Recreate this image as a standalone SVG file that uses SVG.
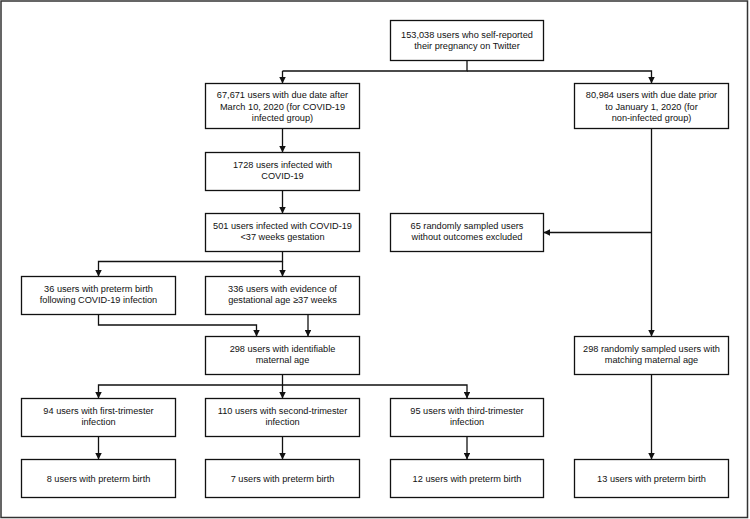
<svg xmlns="http://www.w3.org/2000/svg" width="750" height="519" viewBox="0 0 750 519">
<style>
.box{fill:#fff;stroke:#111;stroke-width:1.3}
.t{font-family:"Liberation Sans",Arial,sans-serif;font-size:9.2px;fill:#111;text-anchor:middle}
.c{fill:none;stroke:#111;stroke-width:1.3}
.a{marker-end:url(#arr)}
</style>
<defs>
<marker id="arr" viewBox="0 0 10 10" refX="10" refY="5" markerWidth="9" markerHeight="6.5" markerUnits="userSpaceOnUse" orient="auto">
<path d="M0,0 L10,5 L0,10 Z" fill="#111"/>
</marker>
</defs>
<rect x="1" y="1" width="746.5" height="516.5" fill="#fff" stroke="#333" stroke-width="1.5"/>
<g id="connectors">
<path class="c" d="M467,60.5 V71 H282.5"/>
<path class="c a" d="M282.5,71 V83.5"/>
<path class="c a" d="M467,71 H651.5 V83.5"/>
<path class="c a" d="M282.5,128.5 V152.5"/>
<path class="c a" d="M282.5,190.5 V213.5"/>
<path class="c a" d="M651.5,128.5 V336.5"/>
<path class="c a" d="M651.5,232.5 H543.5"/>
<path class="c a" d="M282.5,251.5 V261.5 H98.5 V276.5"/>
<path class="c a" d="M282.5,261.5 V276.5"/>
<path class="c a" d="M98.5,314.5 V325 H256.5 V336.5"/>
<path class="c a" d="M308,314.5 V336.5"/>
<path class="c a" d="M282.5,374.5 V385 H98.5 V398.5"/>
<path class="c a" d="M282.5,385 V398.5"/>
<path class="c a" d="M282.5,385 H467 V398.5"/>
<path class="c a" d="M98.5,436.5 V459.5"/>
<path class="c a" d="M282.5,436.5 V459.5"/>
<path class="c a" d="M467,436.5 V459.5"/>
<path class="c a" d="M651.5,374.5 V459.5"/>
</g>
<g id="n-top"><rect class="box" x="390.5" y="20.5" width="153" height="40"/>
<text class="t" x="467" y="38">153,038 users who self-reported</text>
<text class="t" x="467" y="48.6">their pregnancy on Twitter</text></g>
<g id="n-after"><rect class="box" x="205.5" y="83.5" width="154" height="45"/>
<text class="t" x="282.5" y="98.3">67,671 users with due date after</text>
<text class="t" x="282.5" y="109.5">March 10, 2020 (for COVID-19</text>
<text class="t" x="282.5" y="120.7">infected group)</text></g>
<g id="n-prior"><rect class="box" x="574.5" y="83.5" width="154" height="45"/>
<text class="t" x="651.5" y="98.3">80,984 users with due date prior</text>
<text class="t" x="651.5" y="109.5">to January 1, 2020 (for</text>
<text class="t" x="651.5" y="120.7">non-infected group)</text></g>
<g id="n-1728"><rect class="box" x="205.5" y="152.5" width="154" height="38"/>
<text class="t" x="282.5" y="168">1728 users infected with</text>
<text class="t" x="282.5" y="178.6">COVID-19</text></g>
<g id="n-501"><rect class="box" x="205.5" y="213.5" width="154" height="38"/>
<text class="t" x="282.5" y="229">501 users infected with COVID-19</text>
<text class="t" x="282.5" y="239.6">&lt;37 weeks gestation</text></g>
<g id="n-65"><rect class="box" x="390.5" y="213.5" width="153" height="38"/>
<text class="t" x="467" y="229">65 randomly sampled users</text>
<text class="t" x="467" y="239.6">without outcomes excluded</text></g>
<g id="n-36"><rect class="box" x="21.5" y="276.5" width="154" height="38"/>
<text class="t" x="98.5" y="292">36 users with preterm birth</text>
<text class="t" x="98.5" y="302.6">following COVID-19 infection</text></g>
<g id="n-336"><rect class="box" x="205.5" y="276.5" width="154" height="38"/>
<text class="t" x="282.5" y="292">336 users with evidence of</text>
<text class="t" x="282.5" y="302.6">gestational age ≥37 weeks</text></g>
<g id="n-298"><rect class="box" x="205.5" y="336.5" width="154" height="38"/>
<text class="t" x="282.5" y="352">298 users with identifiable</text>
<text class="t" x="282.5" y="362.6">maternal age</text></g>
<g id="n-298r"><rect class="box" x="574.5" y="336.5" width="154" height="38"/>
<text class="t" x="651.5" y="352">298 randomly sampled users with</text>
<text class="t" x="651.5" y="362.6">matching maternal age</text></g>
<g id="n-94"><rect class="box" x="21.5" y="398.5" width="154" height="38"/>
<text class="t" x="98.5" y="414">94 users with first-trimester</text>
<text class="t" x="98.5" y="424.6">infection</text></g>
<g id="n-110"><rect class="box" x="205.5" y="398.5" width="154" height="38"/>
<text class="t" x="282.5" y="414">110 users with second-trimester</text>
<text class="t" x="282.5" y="424.6">infection</text></g>
<g id="n-95"><rect class="box" x="390.5" y="398.5" width="153" height="38"/>
<text class="t" x="467" y="414">95 users with third-trimester</text>
<text class="t" x="467" y="424.6">infection</text></g>
<g id="n-8"><rect class="box" x="21.5" y="459.5" width="154" height="38"/>
<text class="t" x="98.5" y="481.5">8 users with preterm birth</text></g>
<g id="n-7"><rect class="box" x="205.5" y="459.5" width="154" height="38"/>
<text class="t" x="282.5" y="481.5">7 users with preterm birth</text></g>
<g id="n-12"><rect class="box" x="390.5" y="459.5" width="153" height="38"/>
<text class="t" x="467" y="481.5">12 users with preterm birth</text></g>
<g id="n-13"><rect class="box" x="574.5" y="459.5" width="154" height="38"/>
<text class="t" x="651.5" y="481.5">13 users with preterm birth</text></g>
</svg>
